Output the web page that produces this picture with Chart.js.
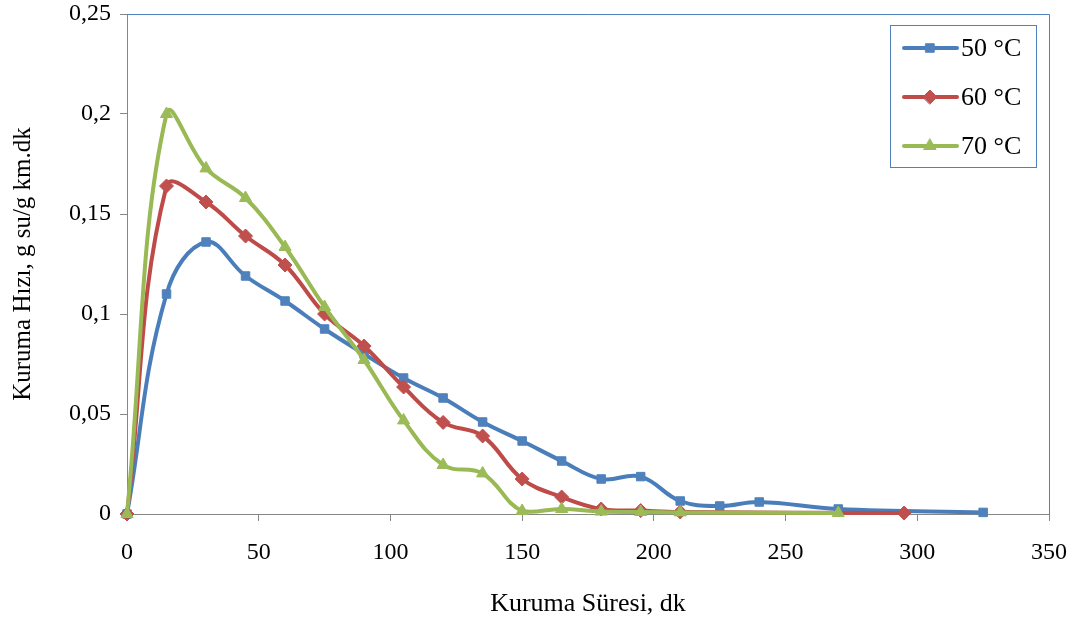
<!DOCTYPE html>
<html>
<head>
<meta charset="utf-8">
<script src="https://cdn.jsdelivr.net/npm/chart.js@4"></script>
<style>
  html, body { margin: 0; padding: 0; background: #fff; }
  #wrap { width: 1083px; height: 624px; }
</style>
</head>
<body>
<div id="wrap"><canvas id="dryChart" width="1083" height="624"></canvas></div>
<script>
// Kuruma süresi (dk) ve kuruma hızı (g su/g km.dk)
const times50 = [0, 15, 30, 45, 60, 75, 90, 105, 120, 135, 150, 165, 180, 195, 210, 225, 240, 270, 325];
const rate50  = [0, 0.110, 0.136, 0.119, 0.1065, 0.0925, 0.080, 0.068, 0.058, 0.046, 0.0365, 0.0265, 0.0175, 0.0187, 0.0065, 0.004, 0.006, 0.0025, 0.0008];

const times60 = [0, 15, 30, 45, 60, 75, 90, 105, 120, 135, 150, 165, 180, 195, 210, 295];
const rate60  = [0, 0.164, 0.156, 0.139, 0.1245, 0.100, 0.084, 0.0635, 0.0458, 0.039, 0.0175, 0.0085, 0.0025, 0.0017, 0.001, 0.0005];

const times70 = [0, 15, 30, 45, 60, 75, 90, 105, 120, 135, 150, 165, 180, 195, 210, 270];
const rate70  = [0, 0.200, 0.1728, 0.158, 0.1335, 0.1035, 0.077, 0.0468, 0.0245, 0.0203, 0.0015, 0.0025, 0.0012, 0.001, 0.0008, 0.0005];

const seriesLabels = ['50 °C', '60 °C', '70 °C'];
const xTicks = [0, 50, 100, 150, 200, 250, 300, 350];
const yTicks = [0, 0.05, 0.1, 0.15, 0.2, 0.25];

const FONT = 'Liberation Serif, "Times New Roman", serif';
const AXIS_GRAY = '#868686';
const FRAME_BLUE = '#4F81BD';

const toPoints = (xs, ys) => xs.map((x, i) => ({ x: x, y: ys[i] }));
const comma = (v) => String(Math.round(v * 1000) / 1000).replace('.', ',');

function series(label, xs, ys, line, fill, style, radius, order) {
  return {
    label: label,
    data: toPoints(xs, ys),
    borderColor: line,
    backgroundColor: fill,
    borderWidth: 4,
    tension: 0.4,
    pointStyle: style,
    pointRadius: radius,
    pointBackgroundColor: fill,
    pointBorderColor: fill,
    pointBorderWidth: 1,
    clip: false,
    order: order
  };
}

// plot frame (top/right) and the boxed legend in the upper right
const framePlugin = {
  id: 'frameAndLegend',
  afterDraw(chart) {
    const { ctx, chartArea: a } = chart;
    ctx.save();
    ctx.strokeStyle = FRAME_BLUE;
    ctx.lineWidth = 1;
    ctx.beginPath();
    ctx.moveTo(a.left, a.top + 0.5);
    ctx.lineTo(a.right + 0.5, a.top + 0.5);
    ctx.lineTo(a.right + 0.5, a.bottom);
    ctx.stroke();

    const bx = 890, by = 25, bw = 146, bh = 142;
    ctx.fillStyle = '#fff';
    ctx.fillRect(bx, by, bw, bh);
    ctx.strokeStyle = FRAME_BLUE;
    ctx.strokeRect(bx + 0.5, by + 0.5, bw, bh);

    chart.data.datasets.forEach((ds, i) => {
      const y = 48 + i * 49;
      ctx.strokeStyle = ds.borderColor;
      ctx.lineWidth = 4;
      ctx.lineCap = 'round';
      ctx.beginPath();
      ctx.moveTo(904, y);
      ctx.lineTo(957, y);
      ctx.stroke();
      ctx.fillStyle = ds.pointBackgroundColor;
      ctx.strokeStyle = ds.pointBorderColor;
      ctx.lineWidth = 1;
      Chart.helpers.drawPoint(ctx, { pointStyle: ds.pointStyle, radius: ds.pointRadius, rotation: 0, borderWidth: 1 }, 930, y);
      ctx.fillStyle = '#000';
      ctx.font = '26px ' + FONT;
      ctx.textBaseline = 'middle';
      ctx.textAlign = 'left';
      ctx.fillText(ds.label, 961, y + 1);
    });
    ctx.restore();
  }
};

new Chart(document.getElementById('dryChart'), {
  type: 'line',
  data: {
    datasets: [
      series(seriesLabels[0], times50, rate50, '#4A7EBB', '#4F81BD', 'rect', 6, 2),
      series(seriesLabels[1], times60, rate60, '#BE4B48', '#C0504D', 'rectRot', 7, 1),
      series(seriesLabels[2], times70, rate70, '#98B954', '#9BBB59', 'triangle', 7, 0)
    ]
  },
  options: {
    responsive: false,
    animation: false,
    layout: { padding: { top: 14, right: 34, left: 0, bottom: 0 } },
    plugins: {
      legend: { display: false },
      tooltip: { enabled: false }
    },
    scales: {
      x: {
        type: 'linear',
        min: 0,
        max: 350,
        afterFit: (s) => { s.height = 110; s.paddingLeft = 0; s.paddingRight = 0; },
        afterBuildTicks: (s) => { s.ticks = xTicks.map(v => ({ value: v })); },
        border: { display: true, color: AXIS_GRAY, width: 1 },
        grid: { drawOnChartArea: false, drawTicks: true, tickLength: 7, color: AXIS_GRAY },
        ticks: { color: '#000', padding: 17, maxRotation: 0, font: { family: FONT, size: 24 } },
        title: {
          display: true,
          text: 'Kuruma Süresi, dk',
          color: '#000',
          padding: { top: 0, bottom: 4 },
          font: { family: FONT, size: 26 }
        }
      },
      y: {
        min: 0,
        max: 0.25,
        afterFit: (s) => { s.width = 127; s.paddingTop = 0; s.paddingBottom = 0; },
        afterBuildTicks: (s) => { s.ticks = yTicks.map(v => ({ value: v })); },
        border: { display: true, color: AXIS_GRAY, width: 1 },
        grid: { drawOnChartArea: false, drawTicks: true, tickLength: 7, color: AXIS_GRAY },
        ticks: { color: '#000', padding: 9, callback: (v) => comma(v), font: { family: FONT, size: 24 } },
        title: {
          display: true,
          text: 'Kuruma Hızı, g su/g km.dk',
          color: '#000',
          padding: { top: 8, bottom: 0 },
          font: { family: FONT, size: 25 }
        }
      }
    }
  },
  plugins: [framePlugin]
});
</script>
</body>
</html>
